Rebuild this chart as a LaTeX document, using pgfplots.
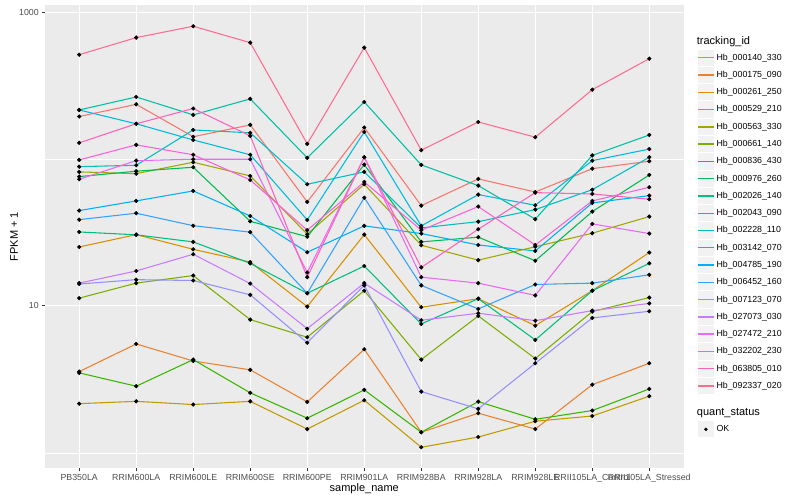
\documentclass[border=0pt]{standalone}
\usepackage{fontspec}
\setmainfont{Liberation Sans}
\usepackage{pgfplots}
\usepackage{pgfplotstable}
\pgfplotsset{compat=1.18}

% ggplot hue palette, 20 levels
\definecolor{c1}{HTML}{F8766D}
\definecolor{c2}{HTML}{EA8331}
\definecolor{c3}{HTML}{D89000}
\definecolor{c4}{HTML}{C09B00}
\definecolor{c5}{HTML}{A3A500}
\definecolor{c6}{HTML}{7CAE00}
\definecolor{c7}{HTML}{39B600}
\definecolor{c8}{HTML}{00BB4E}
\definecolor{c9}{HTML}{00BF7D}
\definecolor{c10}{HTML}{00C1A3}
\definecolor{c11}{HTML}{00BFC4}
\definecolor{c12}{HTML}{00BAE0}
\definecolor{c13}{HTML}{00B0F6}
\definecolor{c14}{HTML}{35A2FF}
\definecolor{c15}{HTML}{9590FF}
\definecolor{c16}{HTML}{C77CFF}
\definecolor{c17}{HTML}{E76BF3}
\definecolor{c18}{HTML}{FA62DB}
\definecolor{c19}{HTML}{FF62BC}
\definecolor{c20}{HTML}{FF6C91}
\definecolor{ggpanel}{HTML}{EBEBEB}
\definecolor{ggkey}{HTML}{F2F2F2}
\definecolor{ggtick}{HTML}{333333}
\definecolor{ggtext}{HTML}{4D4D4D}

\pgfplotsset{
  keyline/.style={legend image code/.code={
    \path[draw=none, fill=none] (0pt,-8.64pt) rectangle (17.28pt,8.64pt);
    \path[draw=none, fill=ggkey] (0.5pt,-8.14pt) rectangle (16.78pt,8.14pt);
    \draw[##1, line width=1.4pt] (1pt,0pt) -- (16.28pt,0pt);}},
  keypoint/.style={legend image code/.code={
    \path[draw=none, fill=none] (0pt,-8.64pt) rectangle (17.28pt,8.64pt);
    \path[draw=none, fill=ggkey] (0.5pt,-8.14pt) rectangle (16.78pt,8.14pt);
    \draw[##1] plot coordinates {(8.64pt,0pt)};}},
}

% FPKM + 1, one column per tracking_id, x = sample index
\pgfplotstableread{
x s1 s2 s3 s4 s5 s6 s7 s8 s9 s10 s11 s12 s13 s14 s15 s16 s17 s18 s19 s20
1 195 3.57 25.2 2.16 81.8 11.3 3.50 76.0 31.9 216 88.8 216 44.6 38.7 14.1 14.3 72.9 98.7 129 514
2 236 5.51 30.6 2.24 79.6 14.3 2.84 82.7 30.5 265 90.8 174 51.9 42.8 15.1 17.3 97.6 125 174 672
3 142 4.22 24.3 2.13 95.2 16.1 4.31 88.0 27.3 200 158 135 60.7 35.2 14.9 22.5 99.8 107 221 803
4 171 3.67 19.9 2.24 76.8 8.07 2.56 37.7 19.5 257 151 107 41.0 31.8 11.9 14.2 99.8 72.1 144 621
5 51.1 2.22 9.89 1.45 30.8 6.12 1.72 29.6 12.2 102 67.4 38.5 23.2 12.2 5.62 7.00 16.9 32.8 15.7 127
6 164 5.07 30.6 2.28 67.4 12.7 2.68 91.7 18.7 245 81.8 153 35.1 54.6 13.8 14.3 103 69.9 103 574
7 48.2 1.38 9.80 1.09 25.9 4.31 1.38 27.3 7.54 91.3 34.0 35.1 31.1 13.8 2.61 7.99 15.7 32.8 18.3 115
8 73.3 1.86 11.2 1.28 20.5 8.55 2.23 29.4 11.2 66.0 37.5 57.3 26.0 9.54 1.99 8.92 14.3 47.5 33.3 179
9 59.7 1.45 7.34 1.64 25.3 4.38 1.69 20.3 5.87 39.0 45.3 48.5 23.7 14.0 4.07 7.94 11.8 26.0 59.1 141
10 86.1 2.91 12.7 1.78 31.3 9.15 1.94 43.9 12.7 106 61.9 97.6 50.3 14.3 8.28 9.29 36.2 51.9 57.9 297
11 96.7 4.07 23.1 2.43 40.6 11.4 2.72 78.0 19.5 146 103 117 56.4 16.3 9.20 10.4 31.1 64.3 53.3 483
}\fpkm

\begin{document}
\begin{tikzpicture}
\fill[white] (0pt,0pt) rectangle (800pt,500pt);
\begin{axis}[
  at={(45pt,31.7pt)}, anchor=south west,
  scale only axis, width=638.5pt, height=463.1pt,
  ymode=log,
  xmin=0.4, xmax=11.6, ymin=0.784, ymax=1117,
  axis background/.style={fill=ggpanel},
  axis line style={draw=none},
  xtick={1,...,11},
  xticklabels={PB350LA, RRIM600LA, RRIM600LE, RRIM600SE, RRIM600PE,
    RRIM901LA, RRIM928BA, RRIM928LA, RRIM928LE,
    RRII105LA\_Control, RRII105LA\_Stressed},
  ytick={10,1000}, yticklabels={10,1000},
  minor ytick={1,100},
  grid=both,
  major grid style={white, line width=1.07pt},
  minor grid style={white, line width=0.53pt},
  tick align=outside, tick pos=left,
  major tick length=2.75pt, minor tick length=0pt,
  tick style={ggtick, line width=1.07pt},
  tick label style={font=\fontsize{8.8}{10}\selectfont, text=ggtext},
  xlabel={sample\_name}, ylabel={FPKM + 1},
  label style={font=\fontsize{11}{13}\selectfont},
  xlabel style={at={(axis description cs:0.5,-0.0447)}, anchor=center},
  ylabel style={at={(axis description cs:-0.0486,0.5)}, anchor=center},
  legend style={at={(1.0216,0.9053)}, anchor=north west, draw=none,
    fill=none, inner sep=0pt, outer sep=0pt, row sep=0pt, column sep=0pt,
    font=\fontsize{8.8}{10}\selectfont, nodes={inner sep=2pt}},
  legend cell align=left,
]
\pgfplotsinvokeforeach{1,...,20}{
  \addplot[c#1, line width=1.07pt, keyline] table[x=x, y=s#1] {\fpkm};
}
\pgfplotsinvokeforeach{1,...,20}{
  \addplot[only marks, mark=*, mark size=1.9pt, black, forget plot]
    table[x=x, y=s#1] {\fpkm};
}
\legend{Hb\_000140\_330, Hb\_000175\_090, Hb\_000261\_250, Hb\_000529\_210,
  Hb\_000563\_330, Hb\_000661\_140, Hb\_000836\_430, Hb\_000976\_260,
  Hb\_002026\_140, Hb\_002043\_090, Hb\_002228\_110, Hb\_003142\_070,
  Hb\_004785\_190, Hb\_006452\_160, Hb\_007123\_070, Hb\_027073\_030,
  Hb\_027472\_210, Hb\_032202\_230, Hb\_063805\_010, Hb\_092337\_020}
\end{axis}

% second legend: quant_status
\begin{axis}[
  at={(697.3pt,62.06pt)}, anchor=south west,
  scale only axis, width=17.28pt, height=17.28pt, hide axis,
  xmin=0, xmax=1, ymin=0, ymax=1,
  legend style={at={(0,1)}, anchor=north west, draw=none, fill=none,
    inner sep=0pt, outer sep=0pt, row sep=0pt, column sep=0pt,
    font=\fontsize{8.8}{10}\selectfont, nodes={inner sep=2pt}},
  legend cell align=left,
]
\addlegendimage{only marks, mark=*, mark size=1.5pt, black, keypoint}
\addlegendentry{OK}
\end{axis}

\node[anchor=base west, inner sep=0pt, font=\fontsize{11}{13}\selectfont]
  at (696.7pt,455.5pt) {tracking\_id};
\node[anchor=base west, inner sep=0pt, font=\fontsize{11}{13}\selectfont]
  at (696.7pt,84.5pt) {quant\_status};

\pgfresetboundingbox
\path[use as bounding box] (0pt,0pt) rectangle (800pt,500pt);
\end{tikzpicture}
\end{document}
